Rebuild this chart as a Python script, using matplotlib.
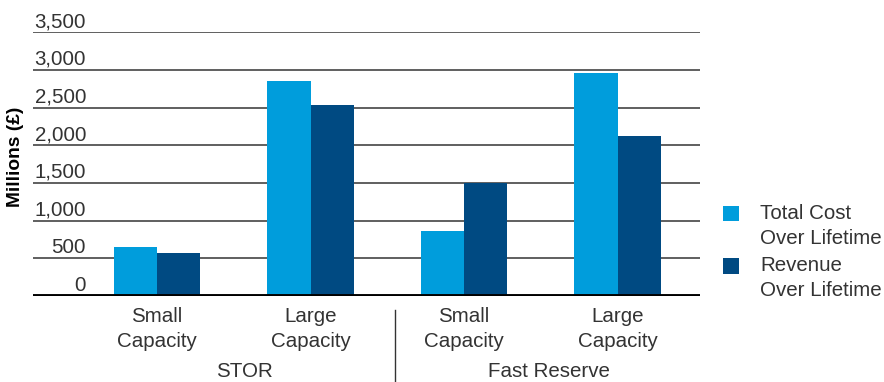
import matplotlib
matplotlib.use("Agg")
import matplotlib.pyplot as plt
import matplotlib.transforms as mtransforms
from matplotlib.patches import Rectangle
import numpy as np

# data
groups = ["STOR", "Fast Reserve"]
categories = ["Small\nCapacity", "Large\nCapacity", "Small\nCapacity", "Large\nCapacity"]
total_cost = [650, 2850, 858, 2960]
revenue = [575, 2540, 1500, 2125]
series_names = ["Total Cost\nOver Lifetime", "Revenue\nOver Lifetime"]
yticks = [0, 500, 1000, 1500, 2000, 2500, 3000, 3500]

light = "#009ddc"
dark = "#004a82"
txt = "#333333"

plt.rcParams['font.family'] = ['Liberation Sans', 'DejaVu Sans']

fig = plt.figure(figsize=(8.84, 3.82), dpi=100)
W, H = 884, 382
ax_left, ax_right, ax_bottom, ax_top = 33, 700, 296, 32.3
ax = fig.add_axes([ax_left / W, 1 - ax_bottom / H,
                   (ax_right - ax_left) / W, (ax_bottom - ax_top) / H])

x = np.arange(len(categories))
width = 0.283
ax.bar(x - width / 2, total_cost, width, color=light, zorder=3)
ax.bar(x + width / 2, revenue, width, color=dark, zorder=3)

ax.set_xlim(-0.808, 3.537)
ax.set_ylim(0, 3500)
for s in ax.spines.values():
    s.set_visible(False)

# gridlines
ax.set_yticks(yticks)
ax.set_yticklabels([])
ax.tick_params(axis='y', length=0)
ax.grid(axis='y', color='#444444', linewidth=1.2, zorder=0)
ax.axhline(0, color='black', linewidth=2.8, zorder=4)

# y tick labels sit above each gridline
lab_x = (86 - ax_left) / (ax_right - ax_left)
trans = mtransforms.offset_copy(ax.get_yaxis_transform(), fig=fig, x=0, y=5, units='dots')
for v in yticks:
    ax.text(lab_x, v, f"{v:,}", transform=trans, ha='right', va='baseline',
            fontsize=14.8, color=txt)

# category labels
ax.set_xticks(x)
ax.set_xticklabels(categories, fontsize=14.8, color=txt, linespacing=1.4)
ax.tick_params(axis='x', length=0, pad=8)

# group labels
group_x = [0.567, 2.554]
axh = ax_bottom - ax_top
for gx, g in zip(group_x, groups):
    ax.text(gx, (ax_bottom - 362) / axh, g, transform=ax.get_xaxis_transform(),
            ha='center', va='top', fontsize=14.8, color=txt)

# separator between groups
ax.plot([1.55, 1.55], [(ax_bottom - 310) / axh, (ax_bottom - 382) / axh],
        transform=ax.get_xaxis_transform(), color='#333333', linewidth=1, clip_on=False)

fig.text(16 / W, 1 - 157 / H, "Millions (£)", rotation=90, ha='center', va='center',
         fontsize=13.8, fontweight='bold', color='black')

# legend drawn by hand
for i, (name, c) in enumerate(zip(series_names, [light, dark])):
    top = 206 + i * 52
    fig.patches.append(Rectangle((723 / W, 1 - (top + 15.5) / H), 15.5 / W, 15.5 / H,
                                 transform=fig.transFigure, facecolor=c, edgecolor='none'))
    fig.text(760 / W, 1 - (top - 2) / H, name, ha='left', va='top',
             fontsize=14.8, color=txt, linespacing=1.4)

fig.savefig("out.png", dpi=100)
